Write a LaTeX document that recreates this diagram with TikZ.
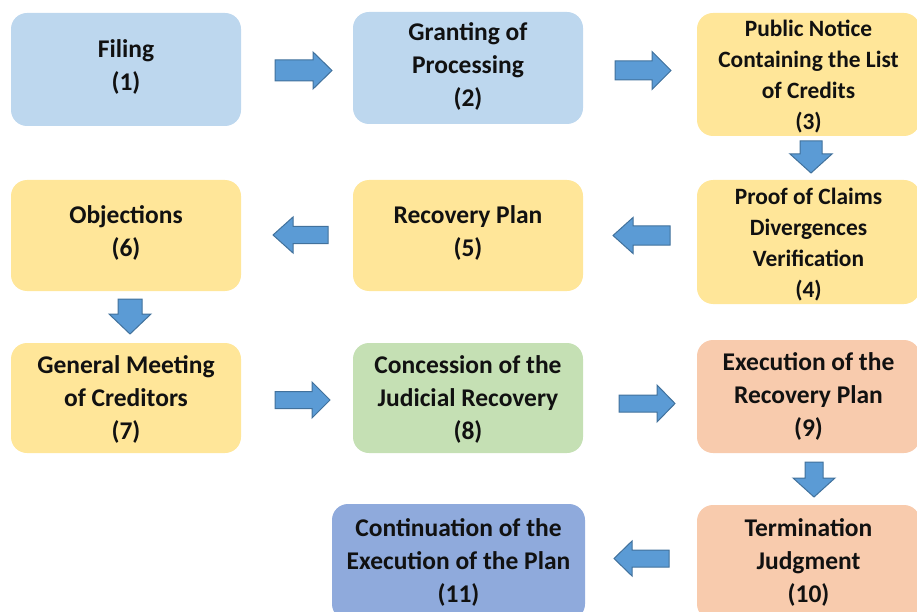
\documentclass[tikz,border=0pt]{standalone}
\usepackage{fontspec}
\setmainfont{Carlito}
\definecolor{cblue}{HTML}{BDD7EE}
\definecolor{cyellow}{HTML}{FFE699}
\definecolor{cgreen}{HTML}{C5E0B4}
\definecolor{corange}{HTML}{F8CBAD}
\definecolor{cdblue}{HTML}{8FAADC}
\definecolor{afill}{HTML}{5B9BD5}
\definecolor{aline}{HTML}{41719C}
\definecolor{txt}{HTML}{111111}
\newcommand\blkH[6]{\draw[blk] (#1,#4-#5) -- (#2,#4-#5) -- (#2,#4-#6) -- (#3,#4) -- (#2,#4+#6) -- (#2,#4+#5) -- (#1,#4+#5) -- cycle;}
\newcommand\blkV[6]{\draw[blk] (#4-#5,#1) -- (#4-#5,#2) -- (#4-#6,#2) -- (#4,#3) -- (#4+#6,#2) -- (#4+#5,#2) -- (#4+#5,#1) -- cycle;}
\tikzset{
  box/.style={rounded corners=16pt, inner sep=0pt},
  lbl/.style={inner sep=0pt, align=center, text=txt,
    font=\fontsize{25.5}{33}\selectfont\bfseries},
  smalllbl/.style={lbl, font=\fontsize{23.4}{31}\selectfont\bfseries},
  blk/.style={fill=afill, draw=aline, line width=1pt, line join=miter}
}
\begin{document}
\begin{tikzpicture}[x=1pt,y=-1pt]
\useasboundingbox (0,0) rectangle (917,612);
\clip (0,0) rectangle (917,612);
% boxes
\node[box, fill=cblue, minimum width=230pt, minimum height=113pt] (b1) at (126,69.5) {};
\node[box, fill=cblue, minimum width=230pt, minimum height=112pt] (b2) at (468,68) {};
\node[box, fill=cyellow, minimum width=223pt, minimum height=123pt] (b3) at (808.5,74.5) {};
\node[box, fill=cyellow, minimum width=223pt, minimum height=124pt] (b4) at (808.5,242) {};
\node[box, fill=cyellow, minimum width=230pt, minimum height=111pt] (b5) at (468,235.5) {};
\node[box, fill=cyellow, minimum width=230pt, minimum height=111pt] (b6) at (126,235.5) {};
\node[box, fill=cyellow, minimum width=230pt, minimum height=110pt] (b7) at (126,398) {};
\node[box, fill=cgreen, minimum width=230pt, minimum height=110pt] (b8) at (468,398) {};
\node[box, fill=corange, minimum width=223pt, minimum height=113pt] (b9) at (808.5,396.5) {};
\node[box, fill=corange, minimum width=223pt, minimum height=115pt] (b10) at (808.5,562.5) {};
\node[box, fill=cdblue, minimum width=253pt, minimum height=116pt] (b11) at (458.5,562) {};
% labels
\node[lbl] (t1) at ([yshift=3pt]b1.center) {Filing\\(1)};
\node[lbl] (t2) at ([yshift=2pt]b2.center) {Granting of\\Processing\\(2)};
\node[smalllbl] (t3) at ([yshift=-2.5pt]b3.center) {Public Notice\\Containing the List\\of Credits\\(3)};
\node[smalllbl] (t4) at ([yshift=-3pt]b4.center) {Proof of Claims\\Divergences\\Verification\\(4)};
\node[lbl] (t5) at ([yshift=3pt]b5.center) {Recovery Plan\\(5)};
\node[lbl] (t6) at ([yshift=3pt]b6.center) {Objections\\(6)};
\node[lbl] (t7) at ([yshift=-1.5pt]b7.center) {General Meeting\\of Creditors\\(7)};
\node[lbl] (t8) at ([yshift=-1.5pt]b8.center) {Concession of the\\Judicial Recovery\\(8)};
\node[lbl] (t9) at (b9.center) {Execution of the\\Recovery Plan\\(9)};
\node[lbl] (t10) at (b10.center) {Termination\\Judgment\\(10)};
\node[lbl] (t11) at (b11.center) {Continuation of the\\Execution of the Plan\\(11)};
% block arrows
\blkH{275}{313}{332}{70.5}{10.5}{18.5}
\blkH{615}{652}{671}{70.5}{9.5}{19}
\blkV{141}{154}{173}{811}{11}{21}
\blkH{670}{633}{613}{235.5}{9.5}{18}
\blkH{328}{293}{273}{235}{8.5}{18}
\blkV{299}{314}{334}{130}{12}{21}
\blkH{275}{312}{330}{400}{8.5}{18}
\blkH{619}{657}{675}{403.5}{8.5}{18.5}
\blkV{462}{478}{497}{814}{9}{21}
\blkH{669}{632}{614}{558.5}{8.5}{17.5}
\end{tikzpicture}
\end{document}
